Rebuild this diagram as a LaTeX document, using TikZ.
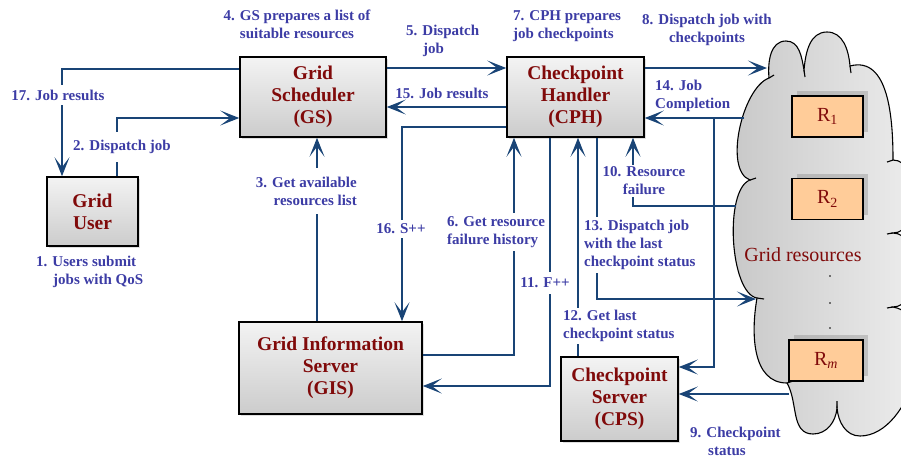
\documentclass[tikz,border=0pt]{standalone}
\usepackage{fontspec}
\setmainfont{Liberation Serif}
\usetikzlibrary{arrows.meta,shadows}
\definecolor{linecol}{RGB}{25,68,118}
\definecolor{lblblue}{RGB}{60,60,165}
\definecolor{nodered}{RGB}{128,10,10}
\definecolor{boxtop}{RGB}{243,243,243}
\definecolor{boxbot}{RGB}{204,204,204}
\definecolor{peach}{RGB}{255,204,153}
\begin{document}
\begin{tikzpicture}[x=1pt,y=1pt,
  box/.style={draw=black, line width=1.6pt, top color=boxtop, bottom color=boxbot,
    drop shadow={shadow xshift=1.5pt, shadow yshift=-1.5pt, opacity=0.25},
    font=\fontsize{19.5}{22}\selectfont\bfseries, text=nodered, align=center, inner sep=0pt},
  rbox/.style={draw=black, line width=1.6pt, fill=peach, minimum width=71pt, minimum height=41pt,
    drop shadow={shadow xshift=5pt, shadow yshift=5pt, opacity=0.35},
    font=\fontsize{20}{22}\selectfont, text=nodered, inner sep=0pt},
  lbl/.style={font=\fontsize{15}{18}\selectfont\bfseries, text=lblblue, inner sep=2pt},
  wl/.style={lbl, fill=white, inner xsep=2pt},
  conn/.style={draw=linecol, line width=1.5pt},
  arr/.style={conn, -{Stealth[length=19pt,width=15pt,inset=10pt]}},
  cloudline/.style={draw=black, line width=1.1pt}
]
\useasboundingbox (0,0) rectangle (901,-458);

% cloud
\path[cloudline, left color=black!22, right color=black!5]
 (769,-78) to[out=95,in=180] (786,-41) to[out=0,in=100] (804,-70)
 to[out=85,in=180] (827,-32) to[out=0,in=95] (850,-66)
 to[out=15,in=90] (893,-160)
 to[out=0,in=0] (893,-233)
 to[out=0,in=0] (893,-307)
 to[out=-10,in=0] (860,-436)
 to[out=180,in=-85] (837,-408)
 to[out=-95,in=0] (813,-434)
 to[out=180,in=-60] (787,-383)
 to[out=180,in=-100] (757,-298)
 to[out=170,in=200,looseness=0.6] (750,-180)
 to[out=160,in=200,looseness=0.7] (769,-78) -- cycle;
\draw[cloudline] (804,-70) -- (805,-77) (850,-66) -- (851,-73)
  (893,-160) -- (887,-162) (893,-233) -- (887,-234) (893,-307) -- (887,-308)
  (837,-408) -- (837,-401) (787,-383) -- (793,-381) (757,-298) -- (764,-299)
  (750,-180) -- (756,-178) (769,-78) -- (774,-75);

\node[text=nodered, font=\fontsize{20}{22}\selectfont] (gr) at (803,-255) {Grid resources};
\fill[black] (830,-276) circle (0.9pt) (830,-303) circle (0.9pt) (830,-328) circle (0.9pt);

\node[rbox] (R1) at (827.5,-116.5) {R\textsubscript{1}};
\node[rbox] (R2) at (827.5,-199) {R\textsubscript{2}};
\node[rbox, minimum width=74pt] (Rm) at (826,-360.5) {R\textsubscript{\textit{m}}};

% boxes
\node[box, minimum width=146pt, minimum height=80pt] (GS) at (313,-97) {Grid\\Scheduler\\(GS)};
\node[box, minimum width=137pt, minimum height=80pt] (CPH) at (575.5,-97) {Checkpoint\\Handler\\(CPH)};
\node[box, minimum width=91pt, minimum height=69pt] (GU) at (92.5,-211.5) {Grid\\User};
\node[box, minimum width=183pt, minimum height=92pt] (GIS) at (330.5,-368) {Grid Information\\Server\\(GIS)};
\node[box, minimum width=117pt, minimum height=84pt] (CPS) at (619.5,-399) {Checkpoint\\Server\\(CPS)};

% connector end points on the cloud
\coordinate (c8) at (767,-68);
\coordinate (c14) at (744,-118);
\coordinate (j14) at (714,-118);
\coordinate (c10) at (736,-206);
\coordinate (c13) at (756,-299);
\coordinate (c9) at (789,-394);

% connectors
\draw[arr] (GS.west |- 0,-69) -| (GU.north -| 62,0);
\draw[arr] (GU.north -| 117,0) |- (GS.west |- 0,-118);
\draw[arr] (GS.east |- 0,-68) -- (CPH.west |- 0,-68);
\draw[arr] (CPH.west |- 0,-107) -- (GS.east |- 0,-107);
\draw[arr] (CPH.west |- 0,-127) -| (GIS.north -| 402,0);
\draw[arr] (GIS.north -| 317,0) -- (GS.south -| 317,0);
\draw[arr] (GIS.east |- 0,-355) -| (CPH.south -| 514,0);
\draw[arr] (CPH.south -| 550,0) |- (GIS.east |- 0,-386);
\draw[arr] (CPS.north -| 578,0) -- (CPH.south -| 578,0);
\draw[arr] (CPH.south -| 597,0) |- (c13);
\draw[arr] (c10) -| (CPH.south -| 633,0);
\draw[arr] (c14) -- (CPH.east |- c14);
\draw[arr] (j14) |- (CPS.east |- 0,-367);
\draw[arr] (c9) -- (CPS.east |- c9);
\draw[arr] (CPH.east |- 0,-68) -- (c8);

% labels
\node[lbl, align=center] (l4) at (297,-24) {4. GS prepares a list of\\suitable resources};
\node[lbl, align=left, anchor=west] (l5) at (404,-41) {5. Dispatch\\\hspace*{17pt}job};
\node[lbl, align=left, anchor=west] (l7) at (511,-26) {7. CPH prepares\\job checkpoints};
\node[lbl, align=center] (l8) at (707,-30) {8. Dispatch job with\\checkpoints};
\node[lbl, align=left, anchor=west] (l14) at (653,-96) {14. Job\\Completion};
\node[lbl] (l15) at (442,-93) {15. Job results};
\node[wl, inner ysep=5pt] (l17) at (58,-95) {17. Job results};
\node[wl, inner ysep=8pt] (l2) at (122,-147) {2. Dispatch job};
\node[wl, inner ysep=9pt, align=right, anchor=east] (l3) at (359,-191) {3. Get available\\resources list};
\node[lbl, align=left, anchor=west] (l1) at (34,-272) {1. Users submit\\\hspace*{17pt}jobs with QoS};
\node[wl, inner ysep=4pt] (l16) at (401,-229) {16. S++};
\node[wl, inner ysep=3pt, align=left, anchor=west] (l6) at (445,-232) {6. Get resource\\failure history};
\node[wl, inner ysep=6pt] (l11) at (545,-283) {11. F++};
\node[wl, inner ysep=2pt, align=left, anchor=west] (l12) at (561,-326) {12. Get last\\checkpoint status};
\node[wl, inner ysep=3pt, align=left, anchor=west] (l13) at (582,-245) {13. Dispatch job\\with the last\\checkpoint status};
\node[wl, inner ysep=2pt, align=center] (l10) at (644,-181) {10. Resource\\failure};
\node[lbl, align=left, anchor=west] (l9) at (688,-441) {9. Checkpoint\\\hspace*{18pt}status};
\end{tikzpicture}
\end{document}
